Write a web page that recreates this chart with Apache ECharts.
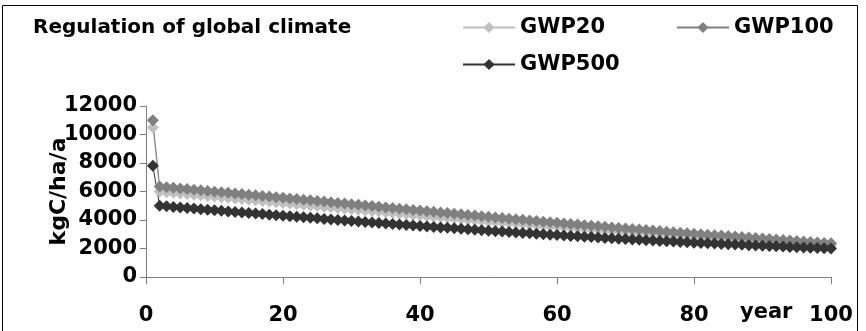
<!DOCTYPE html>
<html><head><meta charset="utf-8">
<script src="https://cdn.jsdelivr.net/npm/echarts@6/dist/echarts.min.js"></script>
<style>html,body{margin:0;padding:0;background:#fff}#c{width:866px;height:331px}</style>
</head><body><div id="c"></div>
<script>
const titleText = "Regulation of global climate";
const yName = "kgC/ha/a";
const xName = "year";
const seriesNames = ["GWP20", "GWP100", "GWP500"];
const years = [1,2,3,4,5,6,7,8,9,10,11,12,13,14,15,16,17,18,19,20,21,22,23,24,25,26,27,28,29,30,31,32,33,34,35,36,37,38,39,40,41,42,43,44,45,46,47,48,49,50,51,52,53,54,55,56,57,58,59,60,61,62,63,64,65,66,67,68,69,70,71,72,73,74,75,76,77,78,79,80,81,82,83,84,85,86,87,88,89,90,91,92,93,94,95,96,97,98,99,100];
const gwp20 = [10500,6000,5956,5912,5868,5824,5780,5736,5692,5650,5605,5560,5515,5470,5425,5380,5335,5290,5245,5200,5156,5112,5068,5024,4980,4936,4892,4848,4804,4760,4717,4674,4631,4588,4545,4502,4459,4416,4373,4330,4289,4248,4207,4166,4125,4084,4043,4002,3961,3920,3882,3844,3806,3768,3730,3692,3654,3616,3578,3540,3504,3468,3432,3396,3360,3324,3288,3252,3216,3180,3147,3114,3081,3048,3015,2982,2949,2916,2883,2850,2819,2788,2757,2726,2695,2664,2633,2602,2571,2540,2511,2482,2453,2424,2395,2366,2337,2308,2279,2250];
const gwp100 = [11000,6350,6305,6260,6215,6170,6125,6080,6035,5990,5947,5904,5861,5818,5775,5732,5689,5646,5603,5560,5515,5470,5425,5380,5335,5290,5245,5200,5155,5110,5065,5020,4975,4930,4885,4840,4795,4750,4705,4660,4616,4572,4528,4484,4440,4396,4352,4308,4264,4220,4178,4136,4094,4052,4010,3968,3926,3884,3842,3800,3760,3720,3680,3640,3600,3560,3520,3480,3440,3400,3364,3328,3292,3256,3220,3184,3148,3112,3076,3040,3006,2972,2938,2904,2870,2836,2802,2768,2734,2700,2666,2632,2598,2564,2530,2496,2462,2428,2394,2360];
const gwp500 = [7800,5000,4960,4920,4880,4840,4800,4760,4720,4680,4642,4604,4566,4528,4490,4452,4414,4376,4338,4300,4263,4226,4189,4152,4115,4078,4041,4004,3967,3930,3895,3860,3825,3790,3755,3720,3685,3650,3615,3580,3547,3514,3481,3448,3415,3382,3349,3316,3283,3250,3219,3188,3157,3126,3095,3064,3033,3002,2971,2940,2912,2884,2856,2828,2800,2772,2744,2716,2688,2660,2635,2610,2585,2560,2535,2510,2485,2460,2435,2410,2388,2366,2344,2322,2300,2278,2256,2234,2212,2190,2171,2152,2133,2114,2095,2076,2057,2038,2019,2000];
const colors = ["#c0c0c0", "#808080", "#333333"];

const font = "DejaVu Sans";
const chart = echarts.init(document.getElementById('c'), null, {renderer: 'canvas'});
const pairs = arr => years.map((y, i) => [y, arr[i]]);
const allData = [gwp20, gwp100, gwp500];
const legendPos = [{left: 462, top: 17}, {left: 676, top: 17}, {left: 462, top: 54}];
chart.setOption({
  animation: false,
  backgroundColor: '#fff',
  title: {text: titleText, left: 28, top: 13, padding: 5, textStyle: {fontFamily: font, fontWeight: 'bold', fontSize: 20, color: '#000'}},
  legend: seriesNames.map((n, i) => ({
    data: [n], left: legendPos[i].left, top: legendPos[i].top, padding: 0, itemWidth: 52, itemHeight: 14, itemGap: 0,
    textStyle: {fontFamily: font, fontWeight: 'bold', fontSize: 21, color: '#000'}
  })),
  grid: {left: 146, right: 35, top: 106, bottom: 54, containLabel: false},
  xAxis: {type: 'value', min: 0, max: 100, interval: 20,
    axisLine: {lineStyle: {color: '#808080', width: 1}},
    axisTick: {show: true, length: 7, lineStyle: {color: '#808080'}},
    splitLine: {show: false},
    axisLabel: {margin: 28, fontFamily: font, fontWeight: 'bold', fontSize: 21, color: '#000'}},
  yAxis: {type: 'value', min: 0, max: 12000, interval: 2000,
    name: yName, nameLocation: 'middle', nameGap: 76, nameRotate: 90, nameMoveOverlap: false,
    nameTextStyle: {fontFamily: font, fontWeight: 'bold', fontSize: 22, color: '#000'},
    axisLine: {show: true, lineStyle: {color: '#808080', width: 1}},
    axisTick: {show: true, length: 6, lineStyle: {color: '#808080'}},
    splitLine: {show: false},
    axisLabel: {margin: 9, fontFamily: font, fontWeight: 'bold', fontSize: 21, color: '#000', formatter: v => String(v)}},
  graphic: [
    {type: 'rect', shape: {x: 2.5, y: 5.5, width: 855, height: 400}, style: {fill: 'none', stroke: '#000', lineWidth: 1}, silent: true},
    {type: 'text', left: 740, top: 302, style: {text: xName, fontFamily: font, fontWeight: 'bold', fontSize: 21, fill: '#000'}}
  ],
  series: seriesNames.map((n, i) => ({
    name: n, type: 'line', data: pairs(allData[i]), symbol: 'diamond', symbolSize: 12, showSymbol: true,
    lineStyle: {color: colors[i], width: 1}, itemStyle: {color: colors[i]}
  }))
});
</script></body></html>
